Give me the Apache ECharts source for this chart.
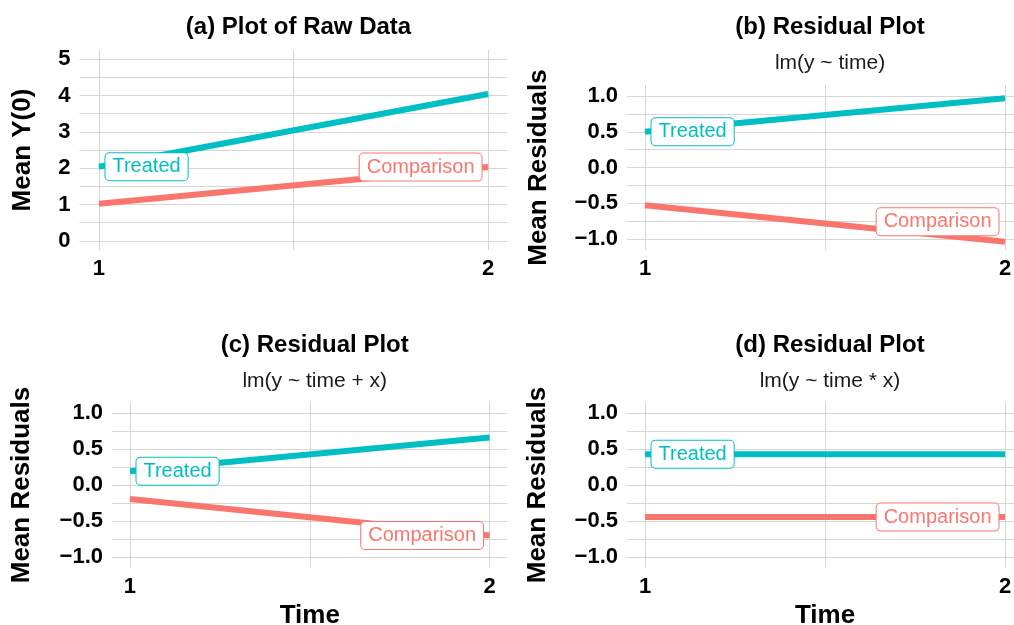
<!DOCTYPE html>
<html>
<head>
<meta charset="utf-8">
<script src="https://cdn.jsdelivr.net/npm/echarts@6/dist/echarts.min.js"></script>
<style>
html, body { margin: 0; padding: 0; background: #fff; }
#chart { width: 1014px; height: 625px; }
</style>
</head>
<body>
<div id="chart"></div>
<script>
// data
const times = [1, 2];
const groups = ['Treated', 'Comparison'];

const rawTreated = [2.04, 4.04];
const rawComparison = [1.02, 2.03];

const resTimeTreated = [0.50, 0.97];
const resTimeComparison = [-0.53, -1.04];

const resAddTreated = [0.19, 0.66];
const resAddComparison = [-0.195, -0.70];

const resIntTreated = [0.425, 0.425];
const resIntComparison = [-0.445, -0.445];

// tick labels and grid lines
const rawTicks = [0, 1, 2, 3, 4, 5];
const rawGridVals = [0, 0.5, 1, 1.5, 2, 2.5, 3, 3.5, 4, 4.5, 5];
const resTicks = [-1, -0.5, 0, 0.5, 1];
const resGridVals = [-1, -0.75, -0.5, -0.25, 0, 0.25, 0.5, 0.75, 1];
const xTicks = [1, 2];
const xGridVals = [1, 1.5, 2];

const teal = '#00BFC4';
const salmon = '#F8766D';
const gridColor = '#d6d6d6';
const font = 'Liberation Sans, Arial, Helvetica, sans-serif';

// right-hand panels run off the edge of the picture
const panels = [
  { title: '(a) Plot of Raw Data', sub: '', yName: 'Mean Y(0)', xName: '',
    grid: { left: 79.5, top: 50, width: 428, height: 200 },
    ymin: -0.25, ymax: 5.25, ticks: rawTicks, gridVals: rawGridVals, dec: 0, nameGap: 44,
    treated: rawTreated, comparison: rawComparison, compShift: 0 },
  { title: '(b) Residual Plot', sub: 'lm(y ~ time)', yName: 'Mean Residuals', xName: '',
    grid: { left: 627, top: 85, width: 396, height: 165 },
    ymin: -1.155, ymax: 1.155, ticks: resTicks, gridVals: resGridVals, dec: 1, nameGap: 75,
    treated: resTimeTreated, comparison: resTimeComparison, compShift: -20 },
  { title: '(c) Residual Plot', sub: 'lm(y ~ time + x)', yName: 'Mean Residuals', xName: 'Time',
    grid: { left: 112, top: 401.7, width: 395.5, height: 166.6 },
    ymin: -1.155, ymax: 1.155, ticks: resTicks, gridVals: resGridVals, dec: 1, nameGap: 77,
    treated: resAddTreated, comparison: resAddComparison, compShift: 0 },
  { title: '(d) Residual Plot', sub: 'lm(y ~ time * x)', yName: 'Mean Residuals', xName: 'Time',
    grid: { left: 627, top: 401.7, width: 396, height: 166.6 },
    ymin: -1.155, ymax: 1.155, ticks: resTicks, gridVals: resGridVals, dec: 1, nameGap: 76,
    treated: resIntTreated, comparison: resIntComparison, compShift: 0 }
];

const titleTops = [[10, 0], [10, 48], [328, 366], [328, 366]];

const fmtNum = (v, dec) => (v < 0 ? '\u2212' : '') + Math.abs(v).toFixed(dec);

const boxLabel = (color, position, shift) => ({
  show: true,
  position: position,
  distance: 6,
  offset: [0, shift],
  formatter: '{a}',
  color: color,
  fontFamily: font,
  fontSize: 20,
  backgroundColor: '#fff',
  borderColor: color,
  borderWidth: 1,
  borderRadius: 4,
  padding: [4, 7, 3, 7]
});

const makeData = (vals, labelIdx, label) => times.map((t, i) => {
  const d = { value: [t, vals[i]] };
  if (i === labelIdx) d.label = label;
  return d;
});

const option = {
  animation: false,
  backgroundColor: '#fff',
  title: [],
  grid: [],
  xAxis: [],
  yAxis: [],
  series: []
};

panels.forEach((p, k) => {
  const cx = p.grid.left + p.grid.width / 2;
  option.title.push({
    text: p.title, left: cx, top: titleTops[k][0], textAlign: 'center',
    textStyle: { fontFamily: font, fontSize: 24, fontWeight: 'bold', color: '#000' }
  });
  if (p.sub) {
    option.title.push({
      text: p.sub, left: cx, top: titleTops[k][1], textAlign: 'center',
      textStyle: { fontFamily: font, fontSize: 21, fontWeight: 'normal', color: '#1a1a1a' }
    });
  }
  option.grid.push(Object.assign({ containLabel: false, outerBoundsMode: 'none' }, p.grid));
  option.xAxis.push({
    type: 'value', gridIndex: k, min: 0.95, max: 2.05,
    name: p.xName, nameLocation: 'middle', nameGap: 35,
    nameTextStyle: { fontFamily: font, fontSize: 26, fontWeight: 'bold', color: '#000' },
    axisLine: { show: false },
    axisTick: { show: false, customValues: xGridVals },
    axisLabel: { customValues: xTicks, margin: 8, fontFamily: font, fontSize: 22, fontWeight: 'bold', color: '#000',
      formatter: v => String(v) },
    splitLine: { show: true, lineStyle: { color: gridColor, width: 1 } }
  });
  option.yAxis.push({
    type: 'value', gridIndex: k, min: p.ymin, max: p.ymax,
    name: p.yName, nameLocation: 'middle', nameGap: p.nameGap,
    nameTextStyle: { fontFamily: font, fontSize: 26, fontWeight: 'bold', color: '#000' },
    axisLine: { show: false },
    axisTick: { show: false, customValues: p.gridVals },
    axisLabel: { customValues: p.ticks, margin: 9, fontFamily: font, fontSize: 22, fontWeight: 'bold', color: '#000',
      formatter: v => fmtNum(v, p.dec) },
    splitLine: { show: true, lineStyle: { color: gridColor, width: 1 } }
  });
  option.series.push({
    name: groups[0], type: 'line', xAxisIndex: k, yAxisIndex: k,
    symbol: 'circle', symbolSize: 1, showSymbol: true,
    lineStyle: { color: teal, width: 6, cap: 'butt' }, itemStyle: { color: teal },
    data: makeData(p.treated, 0, boxLabel(teal, 'right', 0))
  });
  option.series.push({
    name: groups[1], type: 'line', xAxisIndex: k, yAxisIndex: k,
    symbol: 'circle', symbolSize: 1, showSymbol: true,
    lineStyle: { color: salmon, width: 6, cap: 'butt' }, itemStyle: { color: salmon },
    data: makeData(p.comparison, 1, boxLabel(salmon, 'left', p.compShift))
  });
});

const chart = echarts.init(document.getElementById('chart'));
chart.setOption(option);
</script>
</body>
</html>
